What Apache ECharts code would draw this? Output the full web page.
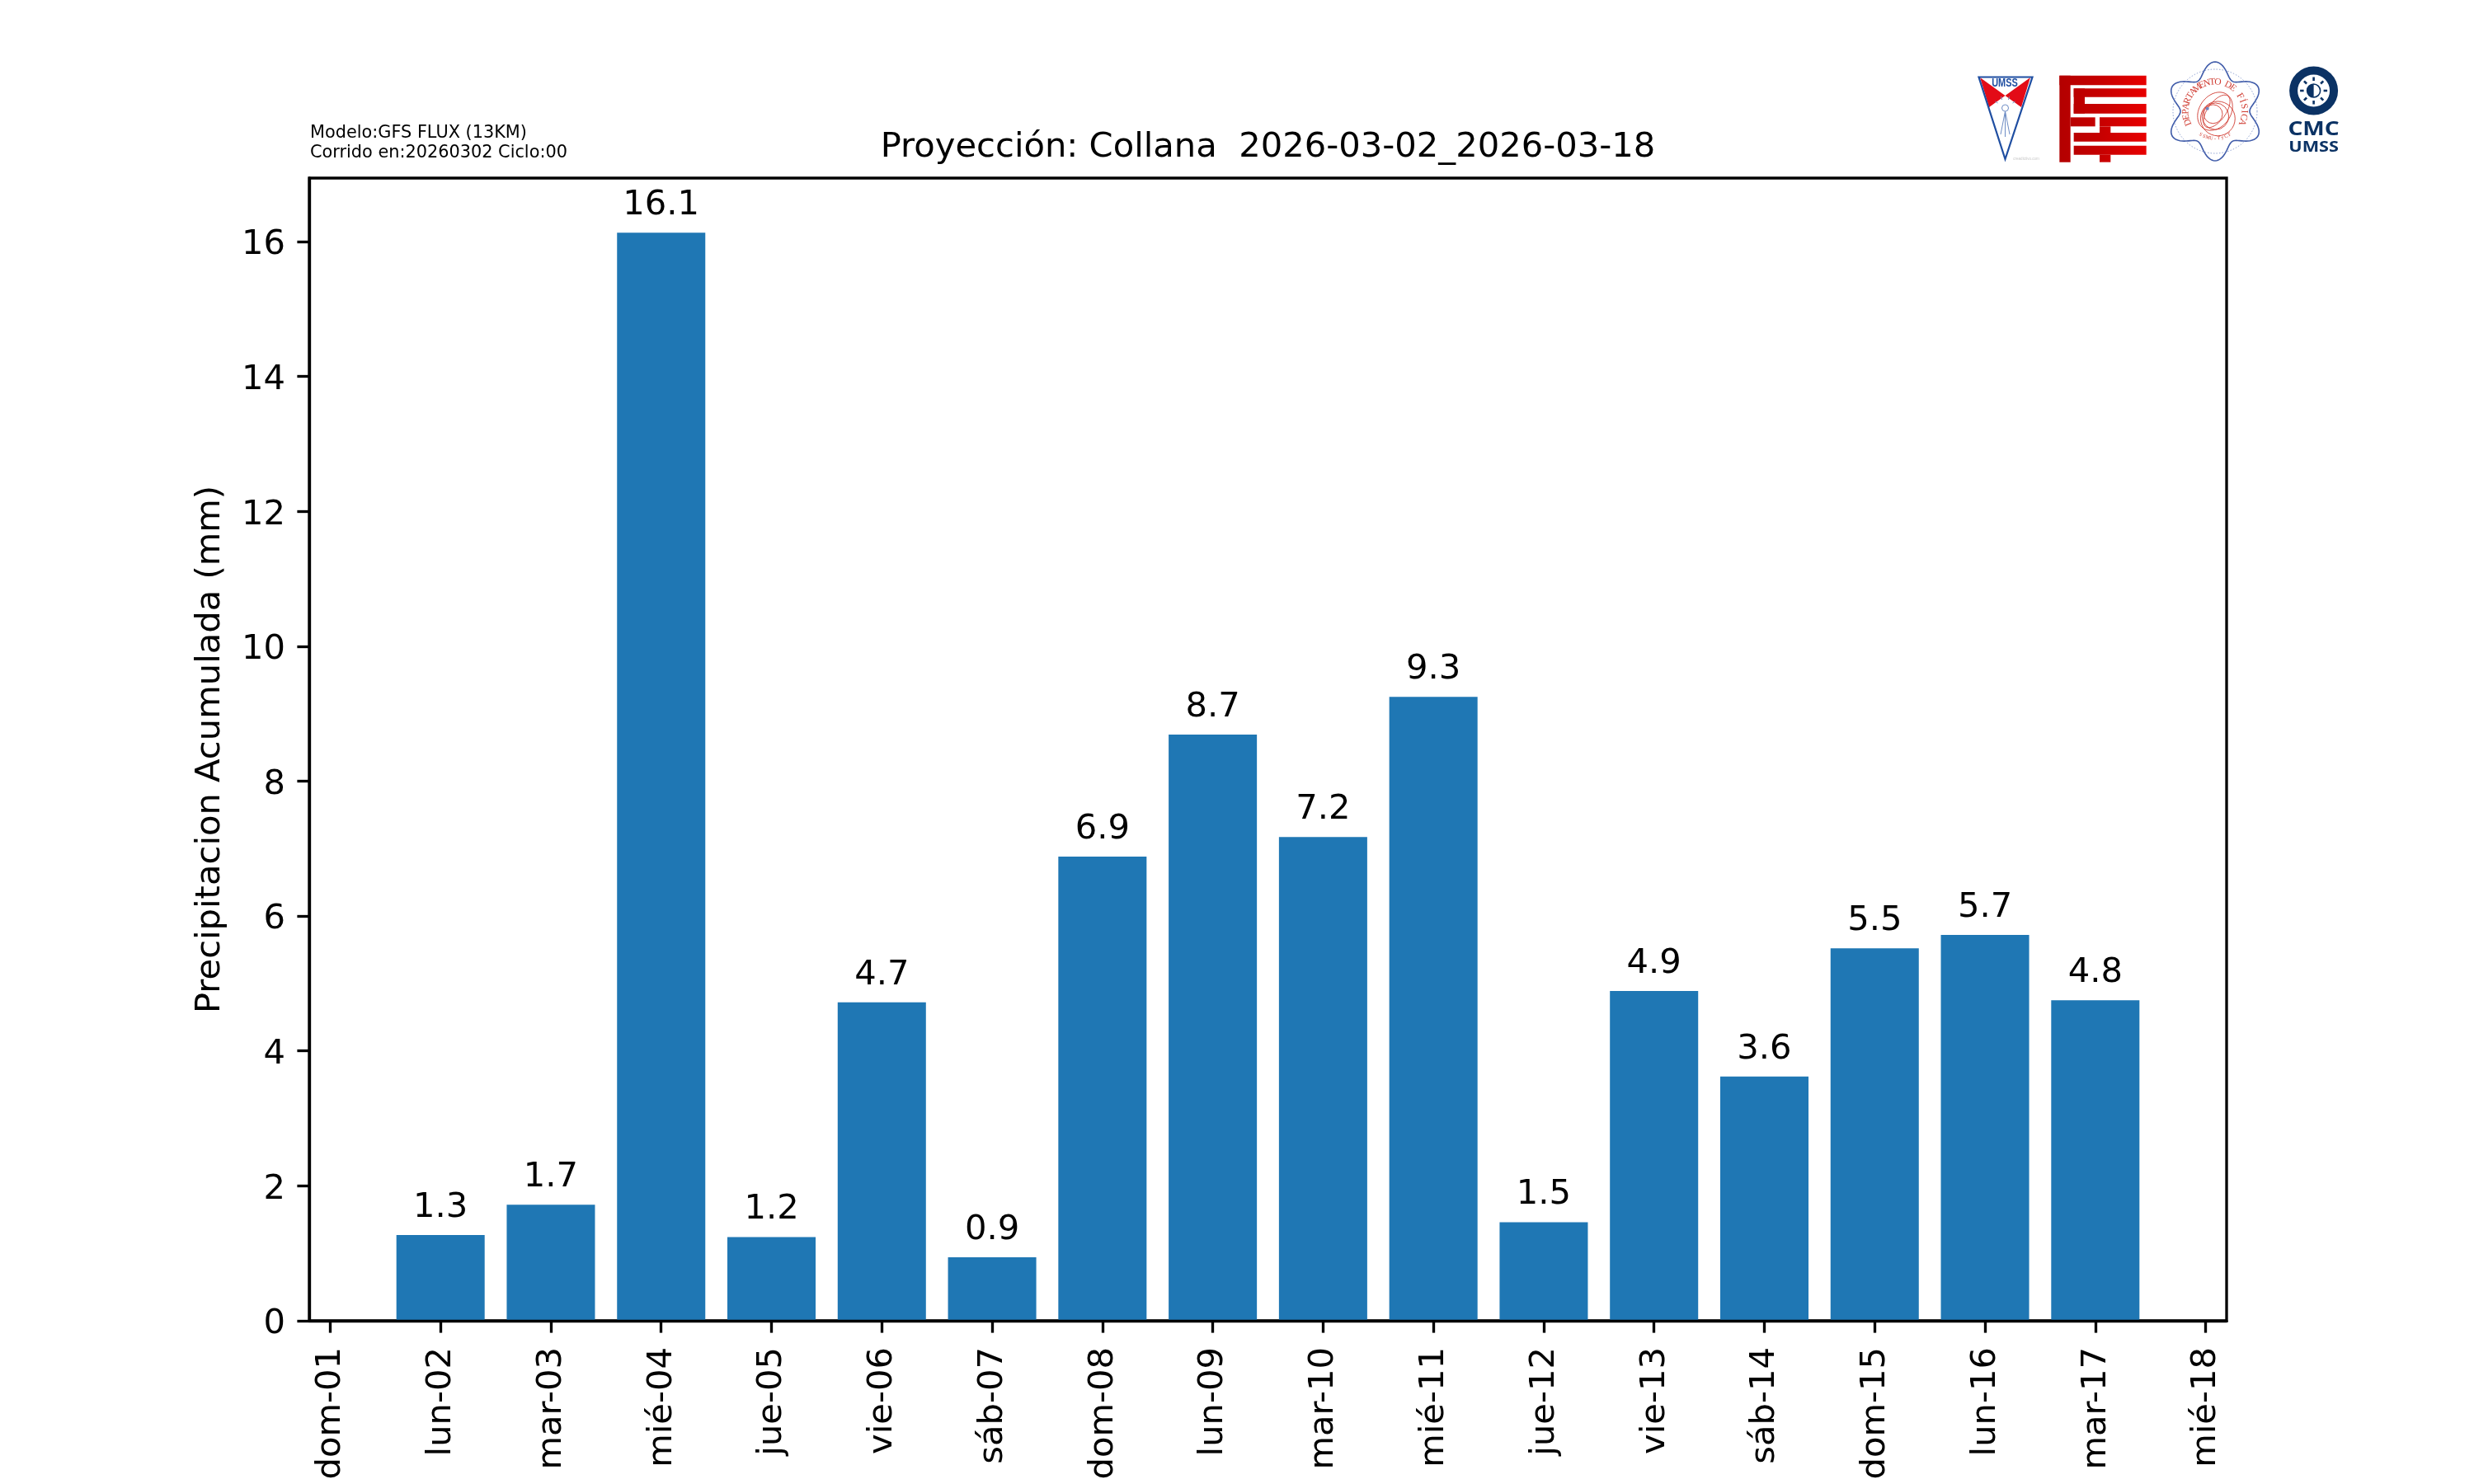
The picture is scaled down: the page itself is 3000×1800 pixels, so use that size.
<!DOCTYPE html>
<html><head><meta charset="utf-8">
<style>html,body{margin:0;padding:0;background:#fff}#c{width:3000px;height:1800px}</style>
<script src="https://cdn.jsdelivr.net/npm/echarts@6/dist/echarts.min.js"></script>
</head><body><div id="c"></div>
<script>
const days=[1,2,3,4,5,6,7,8,9,10,11,12,13,14,15,16,17,18];
const tickLabels=["dom-01","lun-02","mar-03","mié-04","jue-05","vie-06","sáb-07","dom-08","lun-09","mar-10","mié-11","jue-12","vie-13","sáb-14","dom-15","lun-16","mar-17","mié-18"];
const barDays=[2,3,4,5,6,7,8,9,10,11,12,13,14,15,16,17];
const precip=[1.27,1.72,16.13,1.24,4.72,0.94,6.88,8.69,7.17,9.25,1.46,4.89,3.62,5.52,5.72,4.75];
const yTicks=[0,2,4,6,8,10,12,14,16];
const titleText="Proyección: Collana  2026-03-02_2026-03-18";
const noteText="Modelo:GFS FLUX (13KM)\nCorrido en:20260302 Ciclo:00";
const yName="Precipitacion Acumulada (mm)";
const FONT="DejaVu Sans", BLACK="#000";

const g=[];
const poly=(pts,fill,stroke,lw)=>g.push({type:'polygon',shape:{points:pts},style:{fill:fill||'none',stroke:stroke||'none',lineWidth:lw||0}});
const line=(a,b,c,d,col,lw)=>g.push({type:'line',shape:{x1:a,y1:b,x2:c,y2:d},style:{stroke:col,lineWidth:lw,fill:'none'}});
const txt=(s,x,y,fs,col,w,fam,rot,sx)=>g.push({type:'text',x:x,y:y,rotation:rot||0,scaleX:sx||1,style:{text:s,fill:col,font:(w||'normal')+' '+fs+'px "'+(fam||FONT)+'"',textAlign:'center',textVerticalAlign:'middle'}});

// logo 1
const BL="#1f4ea1",RD="#e30b17";
poly([[2401,94],[2431.5,116],[2412,130]],RD);
poly([[2462,94],[2431.5,116],[2451,130]],RD);
poly([[2399.5,93.5],[2464.5,93.5],[2431.5,193]],'none',BL,2.2);
txt("UMSS",2431,101,14,BL,'bold','Liberation Sans',0,.78);
txt("creadictivo.com",2457,193,4.5,'#c8c8c8','normal','Liberation Sans');
g.push({type:'circle',shape:{cx:2431.5,cy:131,r:4},style:{fill:'none',stroke:'#6d8cc4',lineWidth:1}});
line(2431.5,135,2426,163,'#6d8cc4',1);line(2431.5,135,2437,163,'#6d8cc4',1);line(2431.5,135,2431.5,166,'#6d8cc4',1);
[[-12,-8,-9,-6],[-5,-14,-4,-10],[5,-14,4,-10],[12,-8,9,-6]].forEach(p=>line(2431.5+p[0],131+p[1],2431.5+p[2],131+p[3],'#6d8cc4',1));

// logo 2
const gr={type:'linear',x:2497,y:0,x2:2603,y2:0,global:true,colorStops:[{offset:0,color:'#b30000'},{offset:.5,color:'#c80000'},{offset:1,color:'#e80000'}]};
const R=(a,b,c,d)=>{const X=v=>2490+v/3,Y=v=>85+v/3;g.push({type:'rect',shape:{x:X(a),y:Y(b),width:X(c)-X(a),height:Y(d)-Y(b)},style:{fill:gr}});};
R(22,20,338,55);R(22,20,62,335);R(62,172,152,205);
R(74,67,338,98);R(74,67,114,158);R(74,123,338,158);
R(168,172,338,205);R(168,205,208,228);R(74,228,338,260);
R(74,275,338,308);R(168,308,208,335);

// logo 3
const cx=2686,cy=135,GL='#cf3a30';
const ptsF=[];for(let i=0;i<180;i++){const t=i/180*2*Math.PI,r=51+9*Math.cos(6*t);ptsF.push([cx+r*Math.sin(t),cy-r*Math.cos(t)]);}
poly(ptsF,'none','#3f5ba9',1.6);
g.push({type:'circle',shape:{cx:cx,cy:cy,r:51},style:{fill:'none',stroke:'#6f86c4',lineWidth:.8,lineDash:[1.5,2]}});
const pole=[2676.7,131.7],dir=[.72,.69];
[12,17,22].forEach(r=>g.push({type:'circle',shape:{cx:pole[0]+dir[0]*r*.8,cy:pole[1]+dir[1]*r*.8,r:r*.95},style:{fill:'none',stroke:GL,lineWidth:.9}}));
const ell=(x,y,a,b,rt)=>{const p=[];for(let i=0;i<60;i++){const t=i/60*2*Math.PI,u=a*Math.cos(t),v=b*Math.sin(t);p.push([x+u*Math.cos(rt)-v*Math.sin(rt),y+u*Math.sin(rt)+v*Math.cos(rt)]);}poly(p,'none',GL,.9);};
ell(2686,135,25,19,-.95);ell(2688,135,23,11,-.95);
g.push({type:'circle',shape:{cx:pole[0],cy:pole[1],r:2},style:{fill:'#6f86c4'}});
const arc="DEPARTAMENTO DE FÍSICA";
for(let i=0;i<arc.length;i++){const a=(-112+224*i/(arc.length-1))*Math.PI/180;txt(arc[i],cx+35.5*Math.sin(a),cy-35.5*Math.cos(a),11.5,GL,'normal','Liberation Serif',-a);}
const low="FCyT-UMSS";
for(let i=0;i<low.length;i++){const a=(32-64*i/(low.length-1))*Math.PI/180;txt(low[i],cx+33*Math.sin(a),cy+33*Math.cos(a),6,GL,'normal','Liberation Serif',a);}

// logo 4
const NV="#0b3264",ex=2805.6,ey=110;
g.push({type:'ring',shape:{cx:ex,cy:ey,r:29.5,r0:19.5},style:{fill:NV}});
for(let i=0;i<8;i++){const a=i*Math.PI/4;line(ex+12*Math.cos(a),ey+12*Math.sin(a),ex+16.5*Math.cos(a),ey+16.5*Math.sin(a),NV,2.6);}
g.push({type:'circle',shape:{cx:ex,cy:ey,r:8},style:{fill:'#fff',stroke:NV,lineWidth:1.6}});
g.push({type:'sector',shape:{cx:ex,cy:ey,r:8,r0:0,startAngle:Math.PI/2,endAngle:Math.PI*1.5},style:{fill:NV}});
txt("CMC",ex,157.5,24,NV,'bold','Open Sans',0,1.17);
txt("UMSS",ex,179,18.5,NV,'bold','Open Sans',0,1.17);

const chart=echarts.init(document.getElementById('c'),null,{renderer:'canvas',width:3000,height:1800});
chart.setOption({
  animation:false,backgroundColor:'#fff',
  textStyle:{fontFamily:FONT},
  title:[
    {text:titleText,left:1532.5,top:153,textAlign:'center',textStyle:{fontFamily:FONT,fontWeight:'normal',fontSize:41.67,color:BLACK}},
    {text:noteText,left:371,top:145,textStyle:{fontFamily:FONT,fontWeight:'normal',fontSize:20.83,lineHeight:24,color:BLACK}}
  ],
  grid:{show:true,left:375,right:300,top:216,bottom:198,borderColor:BLACK,borderWidth:3.33,backgroundColor:'#fff',containLabel:false},
  xAxis:{type:'value',min:0.81,max:18.19,z:10,
    axisLine:{show:true,onZero:false,lineStyle:{color:BLACK,width:3.33}},
    axisTick:{show:true,length:14.6,lineStyle:{color:BLACK,width:3.33},customValues:days},
    axisLabel:{rotate:90,margin:32,verticalAlign:'top',lineHeight:2,fontFamily:FONT,fontSize:41.67,color:BLACK,customValues:days,formatter:v=>tickLabels[days.indexOf(v)]},
    splitLine:{show:false}},
  yAxis:{type:'value',min:0,max:16.94,z:10,
    name:yName,nameLocation:'middle',nameGap:99,nameTextStyle:{fontFamily:FONT,fontSize:41.67,color:BLACK},
    axisLine:{show:true,lineStyle:{color:BLACK,width:3.33}},
    axisTick:{show:true,length:14.6,lineStyle:{color:BLACK,width:3.33},customValues:yTicks},
    axisLabel:{margin:29,verticalAlign:'top',lineHeight:9,fontFamily:FONT,fontSize:41.67,color:BLACK,customValues:yTicks},
    splitLine:{show:false}},
  series:[{type:'bar',barWidth:'80%',data:barDays.map((d,i)=>[d,precip[i]]),itemStyle:{color:'#1f77b4'},
    label:{show:true,position:'top',distance:12,fontFamily:FONT,fontSize:41.67,color:BLACK,formatter:p=>p.value[1].toFixed(1)}}],
  graphic:g
});
</script></body></html>
